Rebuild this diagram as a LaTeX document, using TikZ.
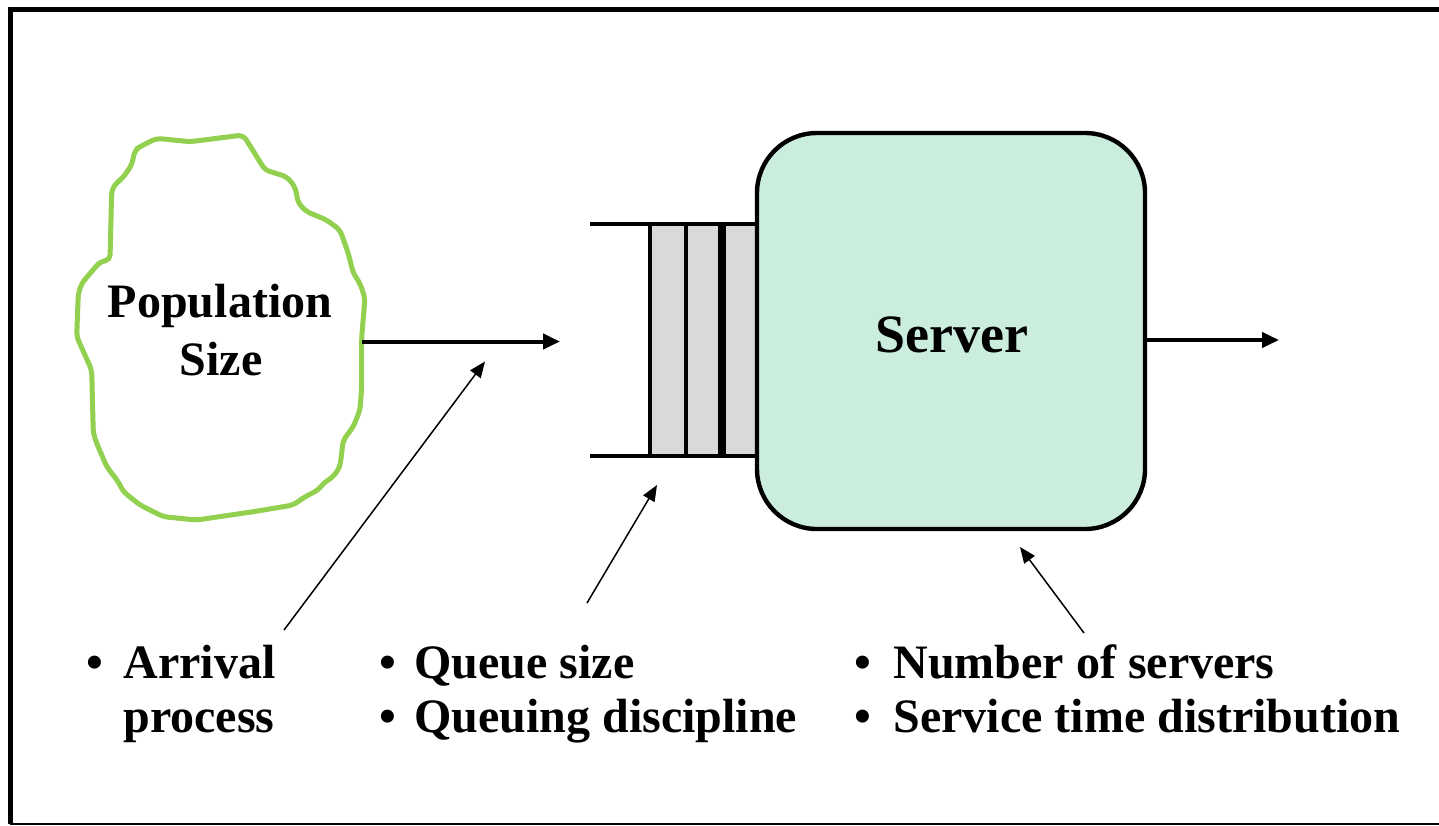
\documentclass[tikz,border=0pt]{standalone}
\usepackage{fontspec}
\setmainfont{Liberation Serif}
\usetikzlibrary{arrows.meta}
\definecolor{blobgreen}{HTML}{92D050}
\definecolor{mint}{HTML}{CBEDDE}
\definecolor{qgray}{HTML}{D9D9D9}
\begin{document}
\begin{tikzpicture}[x=0.5pt,y=-0.5pt,
  lbl/.style={font=\fontsize{24pt}{28pt}\selectfont\bfseries, inner sep=0pt, anchor=base west},
  bul/.style={font=\fontsize{24pt}{28pt}\selectfont\bfseries, inner sep=0pt, anchor=base},
  poptxt/.style={font=\fontsize{24pt}{29pt}\selectfont\bfseries, inner sep=0pt, anchor=base},
  thickarrow/.style={line width=2pt, -{Triangle[length=8.5pt,width=7.5pt]}},
  thinarrow/.style={line width=0.75pt, -{Triangle[length=8pt,width=6.5pt]}},
  qbox/.style={draw, line width=2.2pt, fill=qgray, rectangle, inner sep=0pt},
]
\useasboundingbox (0,0) rectangle (1439,825);
% frame (its right side lies beyond the picture)
\coordinate (fr1) at (1439,9.5);
\coordinate (fr2) at (10,9.5);
\coordinate (fr3) at (10,824);
\coordinate (fr4) at (1439,824);
\draw[line width=2.5pt] (fr1) -- (fr2) -- (fr3);
\draw[line width=1.2pt] (fr3) -- (fr4);

% population blob
\draw[blobgreen, line width=2.5pt, rounded corners=2.5pt, fill=white]
 (156.7,138.3) -- (190,141.7) -- (243.3,135) -- (265,170) -- (286.7,176.7) -- (295,186.7)
 -- (298.3,203.3) -- (306.7,211.7) -- (326.7,220) -- (340,230) -- (348.3,253.3)
 -- (353.3,273.3) -- (360,283.3) -- (365,298.3) -- (361.7,336.7) -- (361.7,386.7)
 -- (360,410) -- (353.3,426.7) -- (343.3,440) -- (340,466.7) -- (333.3,476.7)
 -- (323.3,483.3) -- (318.3,490) -- (305,496.7) -- (293.3,505) -- (253.3,511.7)
 -- (196.7,520) -- (163.3,516.7) -- (150,510) -- (140,505) -- (123.3,491.7)
 -- (118.3,481.7) -- (106.7,466.7) -- (96.7,443.3) -- (93.3,433.3) -- (91.7,370)
 -- (76.7,336.7) -- (78.3,293.3) -- (81.7,283.3) -- (100,261.7) -- (110,260)
 -- (111.7,190) -- (117,182) -- (122,179) -- (131.7,165)
 -- (135,150) -- (140,146.7) -- (146.7,143.3) -- cycle;
\node[poptxt] (pop1) at (220,317) {Population};
\node[poptxt] (pop2) at (221,375) {Size};
\coordinate (popout) at (362,341.5);
\coordinate (popin) at (560,341.5);

% queue
\draw[line width=2.2pt] (590,224) -- (757,224);
\draw[line width=2.2pt] (590,456) -- (757,456);
\node[qbox, minimum width=18pt, minimum height=116pt] (q1) at (668,340) {};
\node[qbox, minimum width=17pt, minimum height=116pt] (q2) at (703,340) {};
\node[qbox, minimum width=16.5pt, minimum height=116pt] (q3) at (740.5,340) {};

% server
\node[draw, line width=2.2pt, fill=mint, rounded corners=30pt, minimum width=194pt, minimum height=198pt, inner sep=0pt] (server) at (951,331) {};
\node[font=\fontsize{27pt}{32pt}\selectfont\bfseries, inner sep=0pt, anchor=base] (servertxt) at (952,352) {Server};
\coordinate (srvout) at (1145,340);
\coordinate (srvend) at (1279,340);

% main flow arrows
\draw[thickarrow] (popout) -- (popin);
\draw[thickarrow] (srvout) -- (srvend);

% labels
\node[bul] (b1) at (95,678) {•};
\node[lbl] (arr1) at (123,678) {Arrival};
\node[lbl] (arr2) at (123,732) {process};
\node[bul] (b2) at (388,678) {•};
\node[lbl] (qs) at (414,678) {Queue size};
\node[bul] (b3) at (388,732) {•};
\node[lbl] (qd) at (414,732) {Queuing discipline};
\node[bul] (b4) at (863,678) {•};
\node[lbl] (ns) at (893,678) {Number of servers};
\node[bul] (b5) at (863,732) {•};
\node[lbl] (st) at (893,732) {Service time distribution};

% pointer arrows
\coordinate (a1tail) at (284,630);
\coordinate (a1tip) at (485,361.5);
\coordinate (a2tail) at (587,603);
\coordinate (a2tip) at (657,485);
\coordinate (a3tail) at (1084,633);
\coordinate (a3tip) at (1020,547);
\draw[thinarrow] (a1tail) -- (a1tip);
\draw[thinarrow] (a2tail) -- (a2tip);
\draw[thinarrow] (a3tail) -- (a3tip);
\end{tikzpicture}
\end{document}
